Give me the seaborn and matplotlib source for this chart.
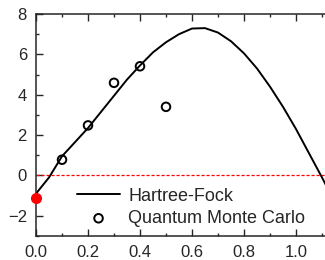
import matplotlib
matplotlib.use("Agg")
import matplotlib.pyplot as plt
import seaborn as sns
from matplotlib.ticker import MultipleLocator

# curve
hf_x = [0.0, 0.05, 0.1, 0.15, 0.2, 0.25, 0.3, 0.35, 0.4, 0.45, 0.5, 0.55,
        0.6, 0.65, 0.7, 0.75, 0.8, 0.85, 0.9, 0.95, 1.0, 1.05, 1.1, 1.12]
hf_y = [-0.9, -0.1, 0.95, 1.65, 2.35, 3.15, 3.95, 4.75, 5.45, 6.1, 6.6, 7.0,
        7.28, 7.3, 7.08, 6.65, 6.05, 5.3, 4.4, 3.4, 2.3, 1.1, -0.1, -0.6]

# QMC points
qmc_x = [0.1, 0.2, 0.3, 0.4, 0.5]
qmc_y = [0.78, 2.48, 4.59, 5.41, 3.4]

red_x = [0.0]
red_y = [-1.1]

sns.set_style("ticks")
plt.rcParams['font.family'] = ['Liberation Sans', 'DejaVu Sans']

fig = plt.figure(figsize=(3.25, 2.6), dpi=100)
ax = fig.add_axes([36 / 325, 24 / 260, 312 / 325, 222 / 260])

ax.axhline(0, color='red', lw=0.9, ls=(0, (2.5, 1.5)), zorder=1)
sns.lineplot(x=hf_x, y=hf_y, color='black', lw=1.4, label='Hartree-Fock', ax=ax)
sns.scatterplot(x=qmc_x, y=qmc_y, marker='o', s=38, facecolor='none',
                edgecolor='black', linewidth=1.4, label='Quantum Monte Carlo', ax=ax, zorder=3)
ax.plot(red_x, red_y, 'o', color='red', ms=7, clip_on=False, zorder=4)

ax.set_xlim(0, 1.2)
ax.set_ylim(-3, 8)
ax.xaxis.set_major_locator(MultipleLocator(0.2))
ax.xaxis.set_minor_locator(MultipleLocator(0.1))
ax.yaxis.set_major_locator(MultipleLocator(2))
ax.yaxis.set_minor_locator(MultipleLocator(1))
ax.tick_params(which='both', direction='in', top=True, right=True, width=1, labelsize=12, pad=6.5)
ax.tick_params(which='major', length=5)
ax.tick_params(which='minor', length=2.5)
for sp in ax.spines.values():
    sp.set_linewidth(1.1)
ax.set_xticks([0, 0.2, 0.4, 0.6, 0.8, 1.0])
ax.set_xticklabels(['0.0', '0.2', '0.4', '0.6', '0.8', '1.0'])

ax.legend(loc='upper left', bbox_to_anchor=(0.131, 0.218), frameon=False,
          fontsize=13, handlelength=2.4, handletextpad=0.45, labelspacing=0.3,
          borderpad=0, borderaxespad=0)

fig.savefig('out.png', dpi=100)
